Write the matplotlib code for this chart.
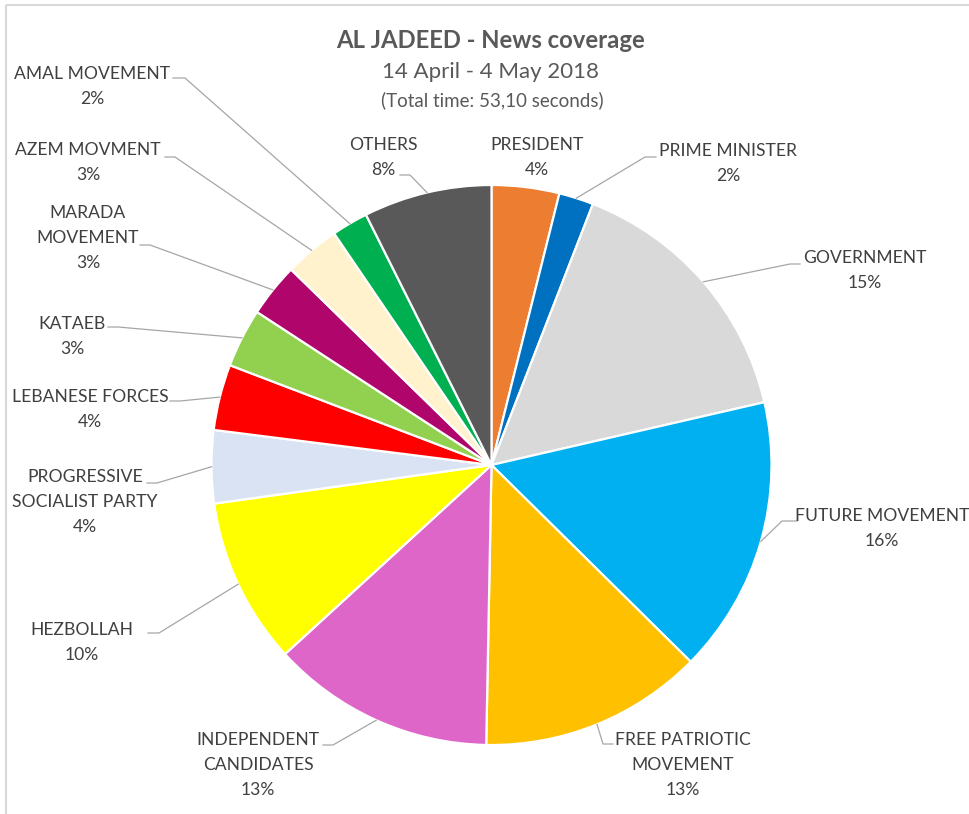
import matplotlib
matplotlib.use('Agg')
import matplotlib.pyplot as plt
import numpy as np

# ---------------- data ----------------
categories = ["PRESIDENT", "PRIME MINISTER", "GOVERNMENT", "FUTURE MOVEMENT",
              "FREE PATRIOTIC\nMOVEMENT", "INDEPENDENT\nCANDIDATES", "HEZBOLLAH",
              "PROGRESSIVE\nSOCIALIST PARTY", "LEBANESE FORCES", "KATAEB",
              "MARADA\nMOVEMENT", "AZEM MOVMENT", "AMAL MOVEMENT", "OTHERS"]
shares = [3.9, 2.0, 15.5, 16.0, 12.9, 12.9, 9.6, 4.2, 3.8, 3.4, 3.1, 3.2, 2.1, 7.4]
pct_labels = ["4%", "2%", "15%", "16%", "13%", "13%", "10%", "4%", "4%", "3%",
              "3%", "3%", "2%", "8%"]
colors = ["#ED7D31", "#0070C0", "#D9D9D9", "#00B0F0", "#FFC000", "#DE66C9",
          "#FFFF00", "#DAE3F3", "#FF0000", "#92D050", "#B0056B", "#FFF2CC",
          "#00B050", "#595959"]

title = "AL JADEED - News coverage"
subtitle = "14 April - 4 May 2018"
note = "(Total time: 53,10 seconds)"

# ---------------- layout (pixels) ----------------
W, H = 969, 814
CX, CY, R = 491.5, 465.0, 280.0
LINE_STEP = 25
# label: (center x, first line y, stub start, elbow) ; None = no leader
label_layout = [
    (537, 145, None, None),
    (728, 151, (656, 157), (645, 157)),
    (865, 258, (800, 264), (790, 264)),
    (882, 516, (797, 521), (782, 521)),
    (683, 740, (613, 744), (603, 744)),
    (258, 740, (323, 745), (333, 745)),
    (82, 630, (148, 633), (159, 633)),
    (85, 477, (147, 483), (157, 483)),
    (90, 397, (170, 401), (180, 401)),
    (72, 324, (108, 327), (118, 327)),
    (88, 213, (140, 245), (150, 245)),
    (88, 150, (165, 157), (175, 157)),
    (92, 74, (173, 78), (185, 78)),
    (383, 145, (400, 175), (410, 175)),
]

plt.rcParams['font.family'] = ['Lato', 'DejaVu Sans']
txt_color = "#404040"
line_color = "#A6A6A6"

fig = plt.figure(figsize=(W / 100, H / 100), dpi=100)
fig.patch.set_facecolor('white')

ax = fig.add_axes([(CX - R) / W, (H - CY - R) / H, 2 * R / W, 2 * R / H])
wedges, _ = ax.pie(shares, colors=colors, startangle=90, counterclock=False,
                   radius=1, wedgeprops=dict(edgecolor='white', linewidth=1.6))
ax.set_xlim(-1, 1)
ax.set_ylim(-1, 1)
ax.axis('off')

ov = fig.add_axes([0, 0, 1, 1])
ov.set_xlim(0, W)
ov.set_ylim(H, 0)
ov.axis('off')
ov.patch.set_alpha(0)

# border (top & left)
ov.plot([6, W], [5, 5], color="#D9D9D9", lw=1.5, solid_capstyle='butt')
ov.plot([6, 6], [5, H], color="#D9D9D9", lw=1.5, solid_capstyle='butt')

# titles
ov.text(491, 41, title, ha='center', va='center', fontsize=17.2,
        fontweight='bold', color="#595959")
ov.text(491, 72, subtitle, ha='center', va='center', fontsize=16, color="#595959")
ov.text(492, 100, note, ha='center', va='center', fontsize=13.5, color="#595959")

for w, cat, pct, lay in zip(wedges, categories, pct_labels, label_layout):
    x, y0, stub, elbow = lay
    lines = cat.split("\n") + [pct]
    for i, ln in enumerate(lines):
        ov.text(x, y0 + i * LINE_STEP, ln, ha='center', va='center',
                fontsize=12.6, color=txt_color)
    if stub is not None:
        mid = np.deg2rad((w.theta1 + w.theta2) / 2)
        px = CX + R * np.cos(mid)
        py = CY - R * np.sin(mid)
        ov.plot([stub[0], elbow[0], px], [stub[1], elbow[1], py],
                color=line_color, lw=0.9)

fig.savefig("out.png", dpi=100, facecolor='white')
